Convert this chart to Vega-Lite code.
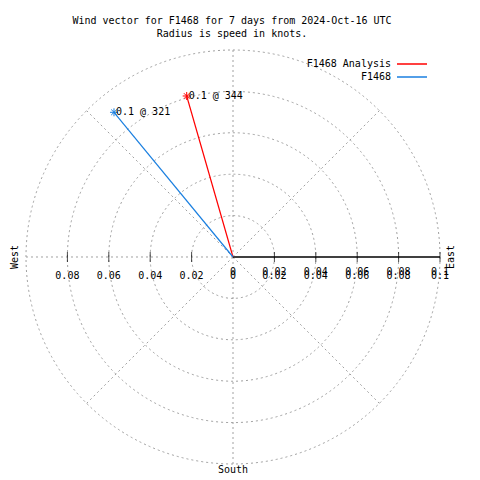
{
  "$schema": "https://vega.github.io/schema/vega-lite/v6.json",
  "width": 480,
  "height": 480,
  "autosize": {"type": "fit", "contains": "padding"},
  "padding": {"top": 16, "left": 0, "right": 0, "bottom": 0},
  "background": "white",
  "config": {
    "view": {"stroke": null},
    "font": "DejaVu Sans Mono",
    "text": {"font": "DejaVu Sans Mono", "fontSize": 10, "color": "black"}
  },
  "title": {
    "text": ["Wind vector for F1468 for 7 days from 2024-Oct-16 UTC", "Radius is speed in knots."],
    "font": "DejaVu Sans Mono",
    "fontSize": 10,
    "fontWeight": "normal",
    "lineHeight": 13,
    "anchor": "middle",
    "dx": -8,
    "offset": 1,
    "color": "black"
  },
  "datasets": {
    "circles": [{"r": 0.02}, {"r": 0.04}, {"r": 0.06}, {"r": 0.08}, {"r": 0.1}],
    "spokes": [
      {"gx": 0.07071, "gy": 0.07071},
      {"gx": 0, "gy": 0.1},
      {"gx": -0.07071, "gy": 0.07071},
      {"gx": -0.1, "gy": 0},
      {"gx": -0.07071, "gy": -0.07071},
      {"gx": 0, "gy": -0.1},
      {"gx": 0.07071, "gy": -0.07071}
    ],
    "ticks": [
      {"t": -0.08, "lab": "0.08", "side": "W"},
      {"t": -0.06, "lab": "0.06", "side": "W"},
      {"t": -0.04, "lab": "0.04", "side": "W"},
      {"t": -0.02, "lab": "0.02", "side": "W"},
      {"t": 0, "lab": "0", "side": "E"},
      {"t": 0.02, "lab": "0.02", "side": "E"},
      {"t": 0.04, "lab": "0.04", "side": "E"},
      {"t": 0.06, "lab": "0.06", "side": "E"},
      {"t": 0.08, "lab": "0.08", "side": "E"},
      {"t": 0.1, "lab": "0.1", "side": "E"}
    ],
    "vectors": [
      {"series": "F1468 Analysis", "u": -0.02237, "v": 0.07778, "label": "0.1 @ 344"},
      {"series": "F1468", "u": -0.05749, "v": 0.0699, "label": "0.1 @ 321"}
    ],
    "compass": [
      {"name": "West", "side": "W"},
      {"name": "East", "side": "E"},
      {"name": "South", "side": "S"}
    ]
  },
  "layer": [
    {
      "data": {"name": "circles"},
      "mark": {"type": "point", "shape": "circle", "filled": false, "fillOpacity": 0, "opacity": 1, "stroke": "#a0a0a0", "strokeWidth": 1, "strokeDash": [2, 3]},
      "encoding": {
        "x": {"datum": 0, "type": "quantitative", "scale": {"domain": [-0.11256, 0.11932], "nice": false, "zero": false}, "axis": null},
        "y": {"datum": 0, "type": "quantitative", "scale": {"domain": [-0.10773, 0.10483], "nice": false, "zero": false}, "axis": null},
        "size": {"field": "r", "type": "quantitative", "scale": {"type": "pow", "exponent": 2, "domain": [0, 0.1], "range": [0, 171396], "zero": true}, "legend": null}
      }
    },
    {
      "data": {"name": "spokes"},
      "mark": {"type": "rule", "color": "#a0a0a0", "strokeWidth": 1, "strokeDash": [2, 3]},
      "encoding": {
        "x": {"field": "gx", "type": "quantitative", "scale": {"domain": [-0.11256, 0.11932], "nice": false, "zero": false}, "axis": null},
        "y": {"field": "gy", "type": "quantitative", "scale": {"domain": [-0.10773, 0.10483], "nice": false, "zero": false}, "axis": null},
        "x2": {"datum": 0},
        "y2": {"datum": 0}
      }
    },
    {
      "data": {"values": [{"a": 0, "b": 0.1}]},
      "mark": {"type": "rule", "color": "black", "strokeWidth": 1.3},
      "encoding": {
        "x": {"field": "a", "type": "quantitative", "scale": {"domain": [-0.11256, 0.11932], "nice": false, "zero": false}, "axis": null},
        "x2": {"field": "b"},
        "y": {"datum": 0, "type": "quantitative", "scale": {"domain": [-0.10773, 0.10483], "nice": false, "zero": false}, "axis": null}
      }
    },
    {
      "data": {"name": "ticks"},
      "transform": [{"filter": "datum.t != 0"}],
      "mark": {"type": "tick", "orient": "vertical", "size": 10, "thickness": 1, "color": "black"},
      "encoding": {
        "x": {"field": "t", "type": "quantitative", "scale": {"domain": [-0.11256, 0.11932], "nice": false, "zero": false}, "axis": null},
        "y": {"datum": 0, "type": "quantitative", "scale": {"domain": [-0.10773, 0.10483], "nice": false, "zero": false}, "axis": null}
      }
    },
    {
      "data": {"name": "ticks"},
      "mark": {"type": "text", "align": "center", "baseline": "middle", "dy": 19},
      "encoding": {
        "x": {"field": "t", "type": "quantitative", "scale": {"domain": [-0.11256, 0.11932], "nice": false, "zero": false}, "axis": null},
        "y": {"datum": 0, "type": "quantitative", "scale": {"domain": [-0.10773, 0.10483], "nice": false, "zero": false}, "axis": null},
        "text": {"field": "lab"}
      }
    },
    {
      "data": {"name": "ticks"},
      "transform": [{"filter": "datum.side == 'E'"}],
      "mark": {"type": "text", "align": "center", "baseline": "middle", "dy": 15},
      "encoding": {
        "x": {"field": "t", "type": "quantitative", "scale": {"domain": [-0.11256, 0.11932], "nice": false, "zero": false}, "axis": null},
        "y": {"datum": 0, "type": "quantitative", "scale": {"domain": [-0.10773, 0.10483], "nice": false, "zero": false}, "axis": null},
        "text": {"field": "lab"}
      }
    },
    {
      "data": {"name": "vectors"},
      "mark": {"type": "rule", "strokeWidth": 1.2},
      "encoding": {
        "x": {"field": "u", "type": "quantitative", "scale": {"domain": [-0.11256, 0.11932], "nice": false, "zero": false}, "axis": null},
        "y": {"field": "v", "type": "quantitative", "scale": {"domain": [-0.10773, 0.10483], "nice": false, "zero": false}, "axis": null},
        "x2": {"datum": 0},
        "y2": {"datum": 0},
        "color": {
          "field": "series",
          "type": "nominal",
          "scale": {"domain": ["F1468 Analysis", "F1468"], "range": ["#ff0000", "#1a7fe0"]},
          "legend": {
            "orient": "none",
            "legendX": 406,
            "legendY": 18,
            "title": null,
            "symbolType": "M-3,0H3",
            "symbolSize": 100,
            "symbolStrokeWidth": 1.5,
            "labelAlign": "right",
            "labelOffset": -27,
            "labelFont": "DejaVu Sans Mono",
            "labelFontSize": 10,
            "labelColor": "black",
            "rowPadding": 2,
            "padding": 0
          }
        }
      }
    },
    {
      "data": {"name": "vectors"},
      "mark": {"type": "point", "shape": "M-1,0H1M0,-1V1M-0.7,-0.7L0.7,0.7M-0.7,0.7L0.7,-0.7", "size": 64, "filled": false, "strokeWidth": 1, "opacity": 1},
      "encoding": {
        "x": {"field": "u", "type": "quantitative", "scale": {"domain": [-0.11256, 0.11932], "nice": false, "zero": false}, "axis": null},
        "y": {"field": "v", "type": "quantitative", "scale": {"domain": [-0.10773, 0.10483], "nice": false, "zero": false}, "axis": null},
        "color": {"field": "series", "type": "nominal"}
      }
    },
    {
      "data": {"name": "vectors"},
      "mark": {"type": "text", "align": "left", "baseline": "middle", "dx": 2},
      "encoding": {
        "x": {"field": "u", "type": "quantitative", "scale": {"domain": [-0.11256, 0.11932], "nice": false, "zero": false}, "axis": null},
        "y": {"field": "v", "type": "quantitative", "scale": {"domain": [-0.10773, 0.10483], "nice": false, "zero": false}, "axis": null},
        "text": {"field": "label"}
      }
    },
    {
      "data": {"name": "compass"},
      "transform": [{"filter": "datum.side == 'W'"}],
      "mark": {"type": "text", "angle": 270, "align": "center", "baseline": "middle"},
      "encoding": {
        "x": {"datum": -0.10531, "type": "quantitative", "scale": {"domain": [-0.11256, 0.11932], "nice": false, "zero": false}, "axis": null},
        "y": {"datum": 0, "type": "quantitative", "scale": {"domain": [-0.10773, 0.10483], "nice": false, "zero": false}, "axis": null},
        "text": {"field": "name"}
      }
    },
    {
      "data": {"name": "compass"},
      "transform": [{"filter": "datum.side == 'E'"}],
      "mark": {"type": "text", "angle": 270, "align": "center", "baseline": "middle"},
      "encoding": {
        "x": {"datum": 0.10531, "type": "quantitative", "scale": {"domain": [-0.11256, 0.11932], "nice": false, "zero": false}, "axis": null},
        "y": {"datum": 0, "type": "quantitative", "scale": {"domain": [-0.10773, 0.10483], "nice": false, "zero": false}, "axis": null},
        "text": {"field": "name"}
      }
    },
    {
      "data": {"name": "compass"},
      "transform": [{"filter": "datum.side == 'S'"}],
      "mark": {"type": "text", "align": "center", "baseline": "middle"},
      "encoding": {
        "x": {"datum": 0, "type": "quantitative", "scale": {"domain": [-0.11256, 0.11932], "nice": false, "zero": false}, "axis": null},
        "y": {"datum": -0.1029, "type": "quantitative", "scale": {"domain": [-0.10773, 0.10483], "nice": false, "zero": false}, "axis": null},
        "text": {"field": "name"}
      }
    }
  ]
}
